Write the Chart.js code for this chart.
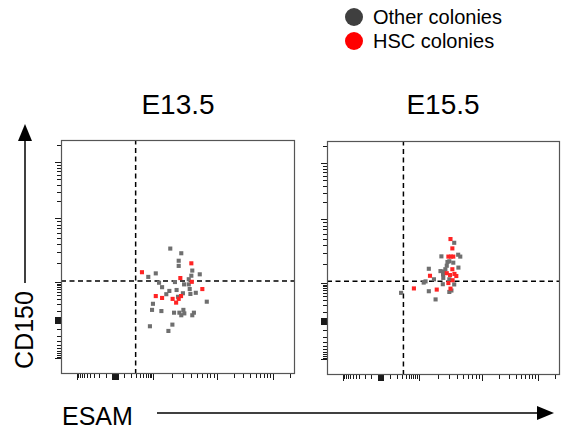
<!DOCTYPE html>
<html>
<head>
<meta charset="utf-8">
<script src="https://cdn.jsdelivr.net/npm/chart.js@4/dist/chart.umd.min.js"></script>
<style>
  html, body { margin: 0; padding: 0; background: #fff; }
  body { width: 569px; height: 431px; position: relative; overflow: hidden;
         font-family: "Liberation Sans", Arial, sans-serif; color: #000; }
  canvas { position: absolute; }
  .txt { position: absolute; white-space: nowrap; line-height: 1; }
  .dot { position: absolute; width: 18px; height: 18px; border-radius: 50%; }
</style>
</head>
<body>
<div class="dot" style="left:345px;top:8px;background:#3f3f3f"></div>
<div class="dot" style="left:345px;top:32px;background:#ff0000"></div>
<div class="txt" style="left:373px;top:7px;font-size:20px">Other colonies</div>
<div class="txt" style="left:373px;top:31px;font-size:20px">HSC colonies</div>

<div class="txt" style="left:178px;top:91px;font-size:28px;transform:translateX(-50%)">E13.5</div>
<div class="txt" style="left:443px;top:91px;font-size:28px;transform:translateX(-50%)">E15.5</div>

<div class="txt" style="left:24px;top:330px;font-size:25px;transform:translate(-50%,-50%) rotate(-90deg)">CD150</div>
<div class="txt" style="left:62px;top:404px;font-size:25px">ESAM</div>

<svg width="569" height="431" style="position:absolute;left:0;top:0" xmlns="http://www.w3.org/2000/svg">
  <line x1="25" y1="283" x2="25" y2="138" stroke="#000" stroke-width="1.5"/>
  <polygon points="25,124 18,141 32,141" fill="#000"/>
  <line x1="157" y1="413" x2="540" y2="413" stroke="#000" stroke-width="1.5"/>
  <polygon points="554,413 537,406 537,420" fill="#000"/>
</svg>

<canvas id="c1" width="262" height="262" style="left:45px;top:128px;width:262px;height:262px"></canvas>
<canvas id="c2" width="261" height="262" style="left:311px;top:129px;width:261px;height:262px"></canvas>

<script>
// ---- Data (display units of the transformed ESAM / CD150 axes, 0-1000) ----
const panelTitles = ["E13.5", "E15.5"];
const seriesNames = ["Other colonies", "HSC colonies"];

// E13.5 — other colonies
const e135OtherX = [467,514,503,503,405,373,593,561,557,546,419,487,526,546,432,550,463,494,450,576,521,553,500,393,623,389,429,483,506,523,527,514,568,561,476,380,459];
const e135OtherY = [536,516,484,462,430,415,426,442,420,405,390,393,383,383,371,363,355,359,341,347,345,342,330,300,309,274,269,262,262,274,259,251,262,251,211,204,184];
// E13.5 — HSC colonies
const e135HscX = [346,557,510,559,604,405,432,477,492,503,513];
const e135HscY = [435,473,410,394,363,333,325,321,305,321,333];

// E15.5 — other colonies
const e155OtherX = [546,491,563,572,542,564,514,508,502,437,498,499,459,423,415,497,525,546,437,525,534,466,318,487,517,525];
const e155OtherY = [565,507,514,506,480,459,467,452,442,454,430,415,409,400,395,388,409,387,358,355,361,323,351,444,483,486];
// E15.5 — HSC colonies
const e155HscX = [530,538,521,532,542,538,514,528,547,555,442,539,521,530,471,373];
const e155HscY = [581,541,506,506,506,452,435,427,432,423,424,405,393,369,365,370];

// Quadrant gates [E13.5, E15.5]
const gateX = [319, 328];
const gateY = [397, 401];

// Axis decoration: positions of decades on the transformed axis
const axisZero = 230;
const decadePos = [393, 665, 905];   // 10^3, 10^4, 10^5

// ---- Axis tick positions (decoration only) ----
function buildTicks() {
  const t = [];
  const span = decadePos[0] - axisZero;
  const w = 150, norm = Math.asinh(1000 / w);
  t.push({ v: axisZero - span, major: true });
  decadePos.forEach(p => t.push({ v: p, major: true }));
  for (let d = 0; d < decadePos.length; d++) {
    const base = decadePos[d];
    const width = d < decadePos.length - 1 ? decadePos[d + 1] - base : 240;
    for (let k = 2; k <= 9; k++) t.push({ v: base + width * Math.log10(k), major: false });
  }
  const lin = [100, 200, 300, 400, 500, 600, 700, 800, 900];
  lin.forEach(v => {
    const off = span * Math.asinh(v / w) / norm;
    t.push({ v: axisZero + off, major: false });
    t.push({ v: axisZero - off, major: false });
  });
  [0, 4, 8, 12].forEach(o => {
    t.push({ v: axisZero + o, major: true });
    t.push({ v: axisZero - o, major: true });
  });
  return t.filter(o => o.v >= 0 && o.v <= 1000);
}
const axisTicks = buildTicks();

const frameTicks = {
  id: 'frameTicks',
  afterDraw(chart) {
    const { ctx, chartArea: a } = chart;
    const xs = chart.scales.x, ys = chart.scales.y;
    ctx.save();
    ctx.strokeStyle = '#1a1a1a';
    ctx.lineWidth = 1;
    axisTicks.forEach(t => {
      const len = t.major ? 6 : 4;
      const px = Math.round(xs.getPixelForValue(t.v)) + 0.5;
      ctx.beginPath(); ctx.moveTo(px, a.bottom); ctx.lineTo(px, a.bottom + len); ctx.stroke();
      const py = Math.round(ys.getPixelForValue(t.v)) + 0.5;
      ctx.beginPath(); ctx.moveTo(a.left, py); ctx.lineTo(a.left - len, py); ctx.stroke();
    });
    ctx.strokeStyle = '#555';
    ctx.lineWidth = 1.2;
    ctx.strokeRect(a.left + 0.5, a.top + 0.5, a.width - 1, a.height - 1);
    ctx.restore();
  }
};

function pts(xs, ys) { return xs.map((x, i) => ({ x: x, y: ys[i] })); }

function makeChart(id, i, otherX, otherY, hscX, hscY) {
  const dashed = { showLine: true, borderColor: '#000', borderWidth: 1.5, borderDash: [5, 3.5],
                   pointRadius: 0, fill: false };
  new Chart(document.getElementById(id), {
    type: 'scatter',
    data: {
      datasets: [
        Object.assign({ label: 'gateV', data: [{ x: gateX[i], y: 0 }, { x: gateX[i], y: 1000 }], order: 3 }, dashed),
        Object.assign({ label: 'gateH', data: [{ x: 0, y: gateY[i] }, { x: 1000, y: gateY[i] }], order: 3 }, dashed),
        { label: seriesNames[0], data: pts(otherX, otherY), pointStyle: 'rect', pointRadius: 2.9,
          pointHoverRadius: 2.9, borderWidth: 0, backgroundColor: '#6f6f6f', order: 2 },
        { label: seriesNames[1], data: pts(hscX, hscY), pointStyle: 'rect', pointRadius: 2.9,
          pointHoverRadius: 2.9, borderWidth: 0, backgroundColor: '#ff2424', order: 1 }
      ]
    },
    options: {
      responsive: false,
      animation: false,
      events: [],
      layout: { padding: { left: 16, top: 12, right: 12, bottom: 16 } },
      scales: {
        x: { type: 'linear', min: 0, max: 1000, display: false },
        y: { type: 'linear', min: 0, max: 1000, display: false }
      },
      plugins: { legend: { display: false }, tooltip: { enabled: false }, title: { display: false } }
    },
    plugins: [frameTicks]
  });
}

makeChart('c1', 0, e135OtherX, e135OtherY, e135HscX, e135HscY);
makeChart('c2', 1, e155OtherX, e155OtherY, e155HscX, e155HscY);
</script>
</body>
</html>
